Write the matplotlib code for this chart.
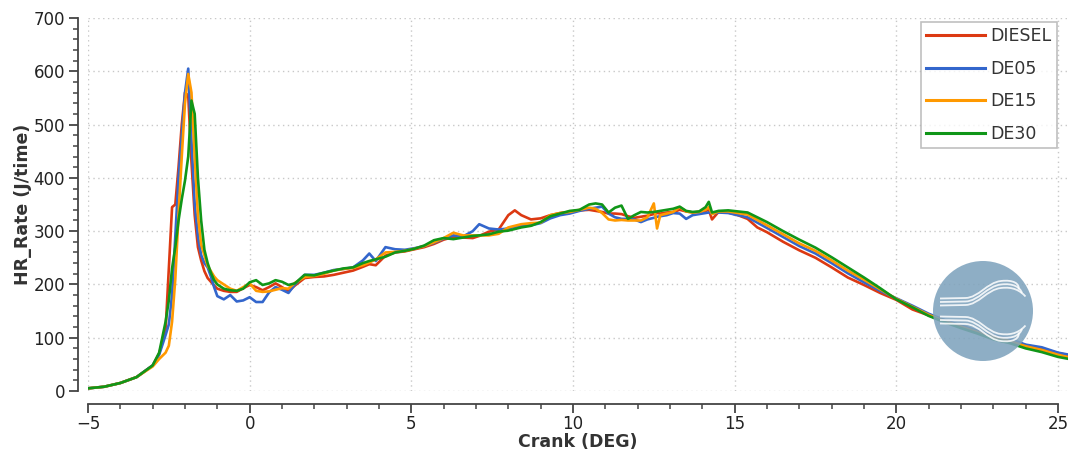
import numpy as np
import matplotlib
matplotlib.use("Agg")
import matplotlib.pyplot as plt
from matplotlib.patches import Circle, PathPatch
from matplotlib.path import Path
from matplotlib.ticker import MultipleLocator

plt.rcParams['font.family'] = ['DejaVu Sans']

crank = [-5, -4.5, -4, -3.5, -3, -2.8, -2.6, -2.5, -2.4, -2.3, -2.2, -2.1, -2.0,
         -1.9, -1.8, -1.7, -1.6, -1.5, -1.4, -1.3, -1.2, -1.1, -1.0, -0.8, -0.6,
         -0.4, -0.2, 0, 0.2, 0.4, 0.6, 0.8, 1.0, 1.2, 1.4, 1.7, 2.0, 2.3, 2.6, 2.9,
         3.2, 3.5, 3.7, 3.9, 4.2, 4.5, 4.8, 5.1, 5.4, 5.7, 6.0, 6.3, 6.6, 6.9, 7.1,
         7.4, 7.7, 8.0, 8.2, 8.4, 8.7, 9.0, 9.3, 9.6, 9.9, 10.2, 10.5, 10.7, 10.9,
         11.1, 11.3, 11.5, 11.7, 11.9, 12.1, 12.3, 12.5, 12.6, 12.7, 12.9, 13.1,
         13.3, 13.5, 13.7, 13.9, 14.1, 14.2, 14.3, 14.5, 14.8, 15.1, 15.4, 15.7,
         16.0, 16.5, 17.0, 17.5, 18.0, 18.5, 19.0, 19.5, 20.0, 20.5, 21.0, 21.5,
         22.0, 22.5, 23.0, 23.5, 24.0, 24.5, 25.0, 25.35]

diesel = [5, 8, 15, 26, 48, 70, 115, 230, 345, 350, 420, 500, 560,
          555, 430, 330, 270, 245, 225, 212, 205, 198, 192, 188, 186,
          186, 193, 199, 195, 189, 195, 202, 195, 187, 198, 212, 214, 215, 218, 222,
          226, 233, 238, 236, 254, 260, 262, 266, 270, 276, 284, 289, 288, 287, 291,
          299, 303, 330, 339, 330, 322, 324, 330, 334, 336, 339, 340, 338, 336,
          333, 333, 332, 328, 325, 327, 329, 332, 334, 333, 335, 336,
          340, 337, 335, 336, 338, 340, 322, 336, 335, 330, 323, 307,
          298, 280, 264, 250, 232, 213, 199, 184, 171, 153, 142, 130,
          120, 111, 101, 95, 86, 80, 71, 67]

de05 = [5, 8, 15, 26, 48, 68, 105, 125, 180, 290, 400, 480, 560,
        605, 470, 350, 290, 255, 240, 232, 215, 195, 178, 172, 180,
        168, 170, 176, 167, 167, 185, 195, 190, 184, 200, 218, 218, 222, 227, 229,
        232, 245, 258, 244, 270, 266, 265, 268, 272, 278, 286, 292, 290, 300, 313,
        305, 303, 305, 308, 310, 311, 315, 324, 330, 333, 338, 342, 344, 346,
        333, 326, 323, 323, 322, 317, 322, 325, 327, 328, 330, 334,
        333, 323, 330, 332, 334, 335, 333, 335, 334, 330, 326, 316,
        306, 289, 272, 258, 240, 221, 204, 188, 174, 160, 145, 133,
        123, 113, 104, 98, 87, 82, 72, 68]

de15 = [5, 8, 15, 26, 46, 60, 72, 85, 130, 210, 330, 440, 540,
        595, 560, 440, 330, 275, 255, 235, 225, 215, 208, 200, 192,
        188, 195, 202, 188, 186, 187, 190, 193, 192, 203, 214, 216, 220, 226, 229,
        231, 236, 241, 247, 260, 261, 263, 267, 272, 279, 287, 297, 292, 292, 292,
        292, 295, 307, 310, 313, 315, 316, 330, 334, 336, 340, 344, 342, 334,
        322, 320, 321, 320, 320, 320, 326, 352, 305, 330, 333, 336,
        345, 337, 335, 336, 340, 345, 332, 337, 337, 334, 331, 321,
        311, 294, 277, 263, 245, 226, 209, 191, 173, 158, 143, 131,
        121, 111, 101, 94, 84, 77, 68, 63]

de30 = [5, 8, 15, 26, 48, 72, 130, 170, 230, 270, 320, 360, 395,
        440, 545, 520, 400, 320, 265, 240, 222, 208, 200, 192, 189,
        188, 192, 204, 208, 199, 202, 208, 205, 199, 202, 218, 217, 222, 226, 230,
        232, 240, 244, 247, 252, 260, 263, 267, 273, 283, 287, 285, 288, 291, 292,
        294, 299, 301, 304, 307, 310, 317, 328, 333, 338, 340, 350, 352, 350,
        335, 344, 348, 323, 330, 336, 335, 336, 337, 338, 340, 342,
        346, 338, 336, 337, 345, 355, 335, 338, 339, 337, 335, 326,
        317, 300, 284, 269, 251, 232, 213, 193, 172, 157, 141, 129,
        118, 108, 97, 90, 80, 73, 64, 60]

series_names = ["DIESEL", "DE05", "DE15", "DE30"]
series_colors = ["#dc3912", "#3366cc", "#ff9900", "#109618"]
series_values = [diesel, de05, de15, de30]

W, H = 1070, 459
fig = plt.figure(figsize=(W / 100, H / 100), dpi=100)
ax = fig.add_axes([88 / W, 1 - 391 / H, 980 / W, 373 / H])

for name, color, vals in zip(series_names, series_colors, series_values):
    ax.plot(crank, vals, color=color, lw=1.9, label=name, solid_joinstyle='round')

ax.set_xlim(-5, 25.31)
ax.set_ylim(0, 700)
ax.xaxis.set_major_locator(MultipleLocator(5))
ax.xaxis.set_minor_locator(MultipleLocator(1))
ax.yaxis.set_major_locator(MultipleLocator(100))
ax.yaxis.set_minor_locator(MultipleLocator(20))

ax.grid(True, which='major', color='#c8c8c8', linestyle=(0, (1, 2.5)), linewidth=1.0)
ax.set_axisbelow(True)

for side in ('top', 'right'):
    ax.spines[side].set_visible(False)
ax.spines['left'].set_position(('outward', 7))
ax.spines['bottom'].set_position(('outward', 9))
ax.spines['left'].set_bounds(0, 700)
ax.spines['bottom'].set_bounds(-5, 25)
for side in ('left', 'bottom'):
    ax.spines[side].set_color('#444444')
    ax.spines[side].set_linewidth(1.3)

ax.tick_params(which='major', length=6.5, width=1.3, color='#444444',
               labelsize=12, labelcolor='#222222', pad=3)
ax.tick_params(axis='x', which='major', pad=1.5)
ax.tick_params(which='minor', length=3.5, width=1.1, color='#444444')

ax.set_xlabel("Crank (DEG)", fontsize=12.5, fontweight='bold', color='#333333', labelpad=0)
ax.set_ylabel("HR_Rate (J/time)", fontsize=12.5, fontweight='bold', color='#333333', labelpad=1)

leg = ax.legend(loc='upper right', bbox_to_anchor=(0.9885, 0.99), fontsize=12.5,
                frameon=True, fancybox=False, handlelength=3.4, handletextpad=0.3,
                borderpad=0.3, labelspacing=0.85, borderaxespad=0)
leg.get_frame().set_edgecolor('#b0b0b0')
leg.get_frame().set_linewidth(1.2)
for line in leg.get_lines():
    line.set_linewidth(2.2)
for txt in leg.get_texts():
    txt.set_color('#333333')

# watermark logo
lx, ly, ls = 983, 311, 104
lax = fig.add_axes([(lx - ls / 2) / W, 1 - (ly + ls / 2) / H, ls / W, ls / H])
lax.set_xlim(-1.04, 1.04)
lax.set_ylim(-1.04, 1.04)
lax.set_aspect('equal')
lax.axis('off')
lax.add_patch(Circle((0, 0), 1.0, facecolor='#7fa3bd', edgecolor='none', alpha=0.88))


def wave(offset, sign):
    verts = [(-0.86, sign * (0.18 + offset)), (-0.35, sign * (0.19 + offset)),
             (-0.08, sign * (0.20 + offset)), (0.08, sign * (0.50 + offset)),
             (0.36, sign * (0.53 + offset)),
             (0.60, sign * (0.56 + offset)), (0.74, sign * (0.48 + offset)),
             (0.78 - offset, sign * (0.36 + offset))]
    codes = [Path.MOVETO, Path.LINETO, Path.CURVE4, Path.CURVE4, Path.CURVE4,
             Path.CURVE4, Path.CURVE4, Path.CURVE4]
    return Path(verts, codes)


for sgn in (1, -1):
    for off in (-0.07, 0.0, 0.07):
        lax.add_patch(PathPatch(wave(off, sgn), facecolor='none', edgecolor='white',
                                lw=1.3, alpha=0.85))

fig.savefig("out.png", dpi=100)
